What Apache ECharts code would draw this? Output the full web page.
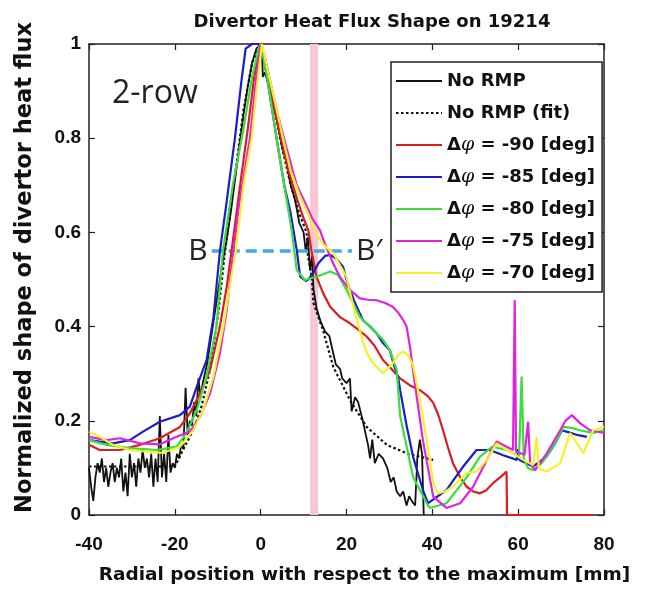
<!DOCTYPE html>
<html><head><meta charset="utf-8">
<script src="https://cdn.jsdelivr.net/npm/echarts@6/dist/echarts.min.js"></script>
<style>html,body{margin:0;padding:0;background:#fff}#c{width:652px;height:597px}</style>
</head><body><div id="c"></div>
<script>
// ---- Data ----
const xTicks = [-40, -20, 0, 20, 40, 60, 80];
const yTicks = [0, 0.2, 0.4, 0.6, 0.8, 1];
const seriesNames = ['No RMP', 'No RMP (fit)', 'Δφ = -90 [deg]', 'Δφ = -85 [deg]', 'Δφ = -80 [deg]', 'Δφ = -75 [deg]', 'Δφ = -70 [deg]'];

const noRmpX = [-40,-39.5,-39,-38.5,-38,-37.5,-37,-36.5,-36,-35.5,-35,-34.5,-34,-33.5,-33,-32.5,-32,-31.5,-31,-30.5,-30,-29.5,-29,-28.5,-28,-27.5,-27,-26.5,-26,-25.5,-25,-24.5,-24,-23.5,-23,-22.5,-22,-21.5,-21,-20.5,-20,-19.5,-19,-18.5,-18,-17.5,-17,-16.5,-16,-15.5,-15,-14.5,-14,-13.5,-13,-12.5,-12,-11,-10,-9,-8,-7,-6,-5,-4,-3,-2,-1,0,0.3,0.5,1,2,3,4,5,6,7,8,9,10,10.5,11,11.5,12,12.3,13,14,15,16,16.5,17.5,18.5,19,20,20.8,21.2,22,22.7,23.8,24.5,25,25.5,26,26.6,27.5,28.5,29.5,30.3,31,31.7,32.5,33.2,34,34.6,35.2,36,36.5,37.1,37.6,38];
const noRmpY = [0.10,0.06,0.03,0.08,0.11,0.09,0.12,0.07,0.10,0.06,0.09,0.11,0.07,0.10,0.08,0.12,0.05,0.09,0.04,0.13,0.08,0.11,0.06,0.12,0.09,0.14,0.10,0.12,0.08,0.13,0.06,0.12,0.07,0.21,0.08,0.13,0.07,0.17,0.09,0.11,0.10,0.13,0.12,0.15,0.14,0.27,0.17,0.20,0.19,0.24,0.21,0.29,0.25,0.28,0.30,0.32,0.35,0.41,0.47,0.53,0.58,0.64,0.71,0.78,0.85,0.91,0.96,0.99,1.0,0.99,0.93,0.94,0.91,0.87,0.83,0.78,0.75,0.70,0.67,0.62,0.60,0.56,0.59,0.52,0.55,0.48,0.44,0.41,0.39,0.38,0.36,0.32,0.31,0.29,0.28,0.29,0.22,0.25,0.24,0.20,0.17,0.15,0.12,0.16,0.11,0.13,0.12,0.10,0.07,0.08,0.05,0.04,0.05,0.02,0.04,0.03,0.02,0.12,0.16,0.13,0.0];

const fitX = [-40,-20,-17.7,-15.4,-13.8,-12,-10,-8.3,-6,-4,-2,0,1,2.5,4.5,7,9,10.7,11,11.9,12.3,14.5,16.9,20.8,24.7,29.4,34,40.2];
const fitY = [0.103,0.103,0.145,0.187,0.23,0.30,0.42,0.56,0.72,0.86,0.96,1.0,0.97,0.90,0.80,0.70,0.64,0.60,0.55,0.506,0.45,0.393,0.315,0.244,0.187,0.149,0.131,0.117];

const m90X = [-40,-37.5,-32.8,-28.1,-23.5,-18.8,-16.5,-14.1,-11.8,-9.5,-7.9,-6.5,-4.5,-3,-1.5,0,1.5,3,4.7,6.5,8.5,10,11.1,11.8,13,14.6,16.2,18.5,20.8,22.5,24.7,26.5,28.5,30.5,32.5,34.8,37.1,39,40.2,41.3,42.5,43.6,44.8,46.5,48,49.5,51.1,52.5,54.2,55.8,57.3,57.4,65,77.5];
const m90Y = [0.149,0.138,0.138,0.149,0.163,0.187,0.216,0.258,0.308,0.40,0.485,0.58,0.72,0.82,0.93,1.0,0.95,0.87,0.80,0.73,0.67,0.63,0.605,0.563,0.506,0.47,0.442,0.42,0.407,0.395,0.379,0.36,0.329,0.31,0.29,0.275,0.265,0.252,0.238,0.215,0.18,0.145,0.11,0.08,0.06,0.05,0.046,0.052,0.068,0.08,0.092,0,0,0];

const m85X = [-40,-37.5,-34.4,-30.5,-27.4,-23.5,-18.8,-16.5,-14.9,-12.6,-11,-9.5,-8,-6,-4.5,-3.5,-2,-0.5,0.5,2,3.7,5.5,7,8.4,9.2,10.5,11.1,12.2,13.5,15,16.2,17.5,19.2,20,20.8,22,23.8,25.5,27,28.5,30.1,31,32,32.5,34,35.5,37.8,39,40.5,43.3,45,47.2,50.3,53.4,56.5,59.7,60,60.3,63.5,66.6,68.5,70.2,72,73.7,76];
const m85Y = [0.159,0.156,0.152,0.159,0.177,0.198,0.212,0.23,0.272,0.329,0.42,0.56,0.66,0.80,0.92,0.99,1.0,1.0,0.98,0.90,0.80,0.70,0.64,0.563,0.506,0.497,0.50,0.513,0.535,0.55,0.552,0.545,0.527,0.50,0.478,0.45,0.414,0.40,0.386,0.365,0.35,0.32,0.294,0.265,0.19,0.124,0.053,0.025,0.035,0.053,0.075,0.103,0.138,0.138,0.127,0.117,0.14,0.117,0.103,0.124,0.15,0.18,0.175,0.17,0.166];

const m80X = [-40,-35.9,-30.5,-24.2,-19.6,-17.3,-14.9,-12.6,-10.3,-8.8,-6.5,-4,-2,-0.5,0,1.5,3.7,5.5,7.3,8.4,10.3,13,16.2,18,20,23.1,26.2,28.5,30.1,31.7,32.5,35.5,38.7,39.4,43.3,48,51.1,54,57.3,60.2,60.8,61.3,62.3,63.5,65.5,68.2,70.5,72.5,74.4,77.5,80];
const m80Y = [0.159,0.149,0.142,0.138,0.145,0.174,0.223,0.294,0.40,0.56,0.70,0.82,0.93,0.99,1.0,0.93,0.80,0.70,0.60,0.52,0.499,0.506,0.517,0.51,0.478,0.421,0.393,0.372,0.35,0.308,0.21,0.081,0.025,0.015,0.025,0.08,0.124,0.145,0.138,0.124,0.294,0.12,0.10,0.095,0.11,0.145,0.187,0.185,0.18,0.174,0.18];

const m75X = [-40,-35.9,-32.8,-28.1,-23.5,-19.6,-16.5,-14.1,-11.8,-9.5,-7.9,-6.5,-5,-2.5,-1,0,1,2.5,4,6,8.4,10,12,13.8,15,16.9,18.5,20.8,23.1,25,27,29,30.8,32,33.2,34,34.8,35.6,37.8,40.2,43.3,46.5,49.5,52.7,55,57.3,58.8,59.2,59.5,61.5,62.3,62.8,63.9,66.6,69.8,71,72.5,74.4,76.7,80];
const m75Y = [0.166,0.159,0.163,0.152,0.15,0.166,0.177,0.209,0.258,0.343,0.435,0.55,0.66,0.80,0.93,1.0,0.97,0.91,0.85,0.78,0.70,0.67,0.63,0.605,0.575,0.534,0.505,0.478,0.46,0.457,0.456,0.45,0.442,0.43,0.414,0.40,0.357,0.30,0.159,0.039,0.015,0.025,0.06,0.117,0.156,0.145,0.138,0.456,0.135,0.128,0.198,0.11,0.095,0.13,0.18,0.20,0.212,0.195,0.18,0.174];

const m70X = [-40,-37.5,-34.4,-30.5,-26,-22.7,-18.8,-15.7,-13.4,-11,-8.7,-7.2,-5.8,-4,-2.1,-1,0.3,1.5,3.5,5.2,7,9,11,12.8,14.5,16.9,18.5,20,21.6,23.9,25,26.2,28.5,30.8,32,33.2,34.3,35.5,37.1,38.7,40.2,41.3,43,44.8,48,50.3,52.7,55,57,58.8,61.2,63.5,64.3,64.8,66.6,69.8,72.1,73.5,75.2,77.5,80];
const m70Y = [0.177,0.166,0.149,0.138,0.134,0.132,0.145,0.18,0.223,0.294,0.40,0.485,0.56,0.70,0.80,0.90,1.0,0.95,0.87,0.80,0.73,0.68,0.64,0.60,0.575,0.556,0.53,0.506,0.442,0.365,0.34,0.322,0.301,0.322,0.34,0.347,0.34,0.318,0.244,0.159,0.068,0.046,0.05,0.06,0.089,0.092,0.117,0.152,0.14,0.13,0.117,0.106,0.166,0.10,0.092,0.11,0.174,0.155,0.131,0.18,0.187];

// B-B' marker and separatrix band (data units)
const bLine = { y: 0.56, x0: -11.4, x1: 21.3 };
const band = [11.5, 13.4];

// ---- Chart ----
const zip = (xs, ys) => xs.map((x, i) => [x, ys[i]]);
const chart = echarts.init(document.getElementById('c'));
const FONT = 'DejaVu Sans';
const TICKFONT = 'Liberation Sans';
const colors = ['#111111', '#111111', '#d81e1e', '#1c1cc8', '#3ddc3d', '#e023e0', '#f2f22a'];
const sets = [[noRmpX, noRmpY], [fitX, fitY], [m90X, m90Y], [m85X, m85Y], [m80X, m80Y], [m75X, m75Y], [m70X, m70Y]];

const series = sets.map((s, i) => ({
  name: seriesNames[i],
  type: 'line',
  data: zip(s[0], s[1]),
  symbol: 'none',
  z: 3 + i,
  lineStyle: { color: colors[i], width: i === 0 ? 1.8 : 2.2, type: i === 1 ? [2.5, 2.5] : 'solid' },
  itemStyle: { color: colors[i] },
  clip: true
}));
series.push({
  type: 'line', data: [], z: 1, silent: true,
  markArea: { silent: true, itemStyle: { color: '#f7c8d3' }, data: [[{ xAxis: band[0] }, { xAxis: band[1] }]] }
});
series.push({
  type: 'line', data: [], z: 20, silent: true,
  markLine: {
    silent: true, symbol: 'none',
    lineStyle: { color: '#4aa6e0', width: 3.5, type: [11, 6] },
    label: { show: false },
    data: [[{ coord: [bLine.x0, bLine.y] }, { coord: [bLine.x1, bLine.y] }]]
  },
  markPoint: {
    silent: true, symbolSize: 0,
    data: [
      { coord: [bLine.x0, bLine.y], label: { show: true, position: 'left', distance: 4, formatter: 'B', fontSize: 30, fontFamily: 'Open Sans', color: '#222' } },
      { coord: [bLine.x1, bLine.y], label: { show: true, position: 'right', distance: 4, formatter: 'B′', fontSize: 30, fontFamily: 'Open Sans', color: '#222' } }
    ]
  }
});

const axisCommon = {
  type: 'value',
  axisLine: { show: true, onZero: false, lineStyle: { color: '#222', width: 1.5 } },
  axisTick: { show: true, inside: true, length: 6, lineStyle: { color: '#222', width: 1.2 } },
  splitLine: { show: false }
};

chart.setOption({
  animation: false,
  title: {
    text: 'Divertor Heat Flux Shape on 19214',
    left: 367, top: 8, textAlign: 'center',
    textStyle: { fontFamily: FONT, fontWeight: 'bold', fontSize: 18, color: '#111' }
  },
  grid: { left: 89, right: 48, top: 44, bottom: 82 },
  legend: {
    data: seriesNames,
    orient: 'vertical',
    left: 391, top: 62,
    padding: [8, 7, 8, 4],
    itemGap: 10,
    itemWidth: 46, itemHeight: 14,
    backgroundColor: '#fff',
    borderColor: '#222', borderWidth: 1.5,
    itemStyle: { opacity: 0 },
    formatter: n => n.replace('φ', '{i|φ}'),
    textStyle: {
      fontFamily: FONT, fontWeight: 'bold', fontSize: 18, color: '#111', lineHeight: 22,
      rich: { i: { fontFamily: 'DejaVu Serif', fontStyle: 'italic', fontWeight: 'normal', fontSize: 19, color: '#111', lineHeight: 22 } }
    }
  },
  xAxis: [
    Object.assign({}, axisCommon, {
      min: xTicks[0], max: xTicks[xTicks.length - 1], interval: 20, position: 'bottom',
      axisLabel: { margin: 20, fontFamily: TICKFONT, fontWeight: 'bold', fontSize: 19, color: '#111' },
      name: 'Radial position with respect to the maximum [mm]',
      nameLocation: 'middle', nameGap: 51,
      nameTextStyle: { fontFamily: FONT, fontWeight: 'bold', fontSize: 18.5, color: '#111', padding: [0, 0, 0, 36] }
    }),
    Object.assign({}, axisCommon, {
      min: xTicks[0], max: xTicks[xTicks.length - 1], interval: 20, position: 'top',
      axisLabel: { show: false }
    })
  ],
  yAxis: [
    Object.assign({}, axisCommon, {
      min: yTicks[0], max: yTicks[yTicks.length - 1], interval: 0.2, position: 'left',
      axisLabel: { margin: 8, fontFamily: TICKFONT, fontWeight: 'bold', fontSize: 19, color: '#111' },
      name: 'Normalized shape of divertor heat flux',
      nameLocation: 'middle', nameGap: 52, nameRotate: 90,
      nameTextStyle: { fontFamily: FONT, fontWeight: 'bold', fontSize: 22.5, color: '#111', padding: [0, 0, 0, 24] }
    }),
    Object.assign({}, axisCommon, {
      min: yTicks[0], max: yTicks[yTicks.length - 1], interval: 0.2, position: 'right',
      axisLabel: { show: false }
    })
  ],
  graphic: [{
    type: 'text', left: 112, top: 78, silent: true,
    style: { text: '2-row', fontSize: 32, fontFamily: 'Open Sans', fill: '#222' }
  }],
  series: series
});
</script>
</body></html>
